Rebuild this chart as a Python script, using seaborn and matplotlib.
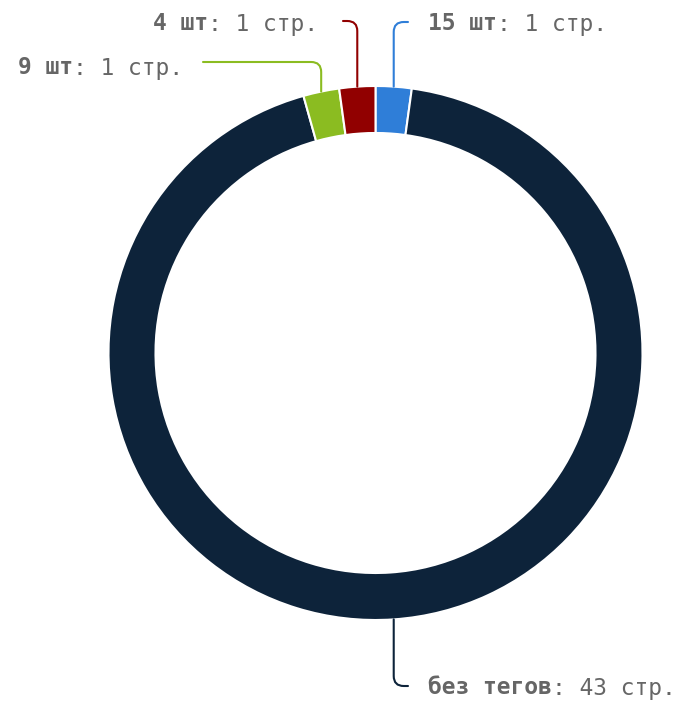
import numpy as np
import matplotlib.pyplot as plt
import seaborn as sns

# Data
names = ["15 шт", "без тегов", "9 шт", "4 шт"]
pages = [1, 43, 1, 1]
colors = ["#2f7ed8", "#0d233a", "#8bbc21", "#910000"]

# Label layout in pixels (top-left origin): connector end and text anchor
label_ends = [(408, 22), (408, 686), (203, 62), (343, 21)]
label_text = [(428, 24, "left"), (428, 688, "left"), (183, 68, "right"), (318, 24, "right")]

W, H = 682, 702
center = (375.5, H - 353)
radius = 267
ring = 47

# Set chart style
sns.set_style("white")
plt.rcParams["font.family"] = ["DejaVu Sans Mono"]

fig = plt.figure(figsize = (W / 100, H / 100), dpi = 100)
ax = fig.add_axes([0, 0, 1, 1])

# Build chart
wedges, _ = ax.pie(
    pages,
    colors = colors,
    startangle = 90,
    counterclock = False,
    radius = radius,
    center = center,
    wedgeprops = dict(width = ring, edgecolor = "white", linewidth = 1.5)
)
ax.set_xlim(0, W)
ax.set_ylim(0, H)
ax.set_aspect("auto")
ax.axis("off")

# Labels with connectors
text_color = "#666666"
fsize = 16.5
for w, name, n, c, end, (tx, ty, ha) in zip(wedges, names, pages, colors, label_ends, label_text):
    mid = np.deg2rad((w.theta1 + w.theta2) / 2)
    anchor = (center[0] + radius * np.cos(mid), center[1] + radius * np.sin(mid))
    ax.annotate(
        "",
        xy = anchor,
        xytext = (end[0], H - end[1]),
        arrowprops = dict(
            arrowstyle = "-",
            connectionstyle = "angle,angleA=0,angleB=90,rad=10",
            color = c,
            lw = 1.5,
            shrinkA = 0,
            shrinkB = 0
        )
    )

    rest = f": {n} стр."
    if ha == "left":
        t1 = ax.text(tx, H - ty, name, ha = "left", va = "center",
                     fontsize = fsize, fontweight = "bold", color = text_color)
        ax.annotate(rest, xy = (1, 0), xycoords = t1, ha = "left", va = "bottom",
                    fontsize = fsize, color = text_color)
    else:
        t2 = ax.text(tx, H - ty, rest, ha = "right", va = "center",
                     fontsize = fsize, color = text_color)
        ax.annotate(name, xy = (0, 0), xycoords = t2, ha = "right", va = "bottom",
                    fontsize = fsize, fontweight = "bold", color = text_color)

# Save
fig.savefig("out.png", dpi = 100)
plt.close(fig)
